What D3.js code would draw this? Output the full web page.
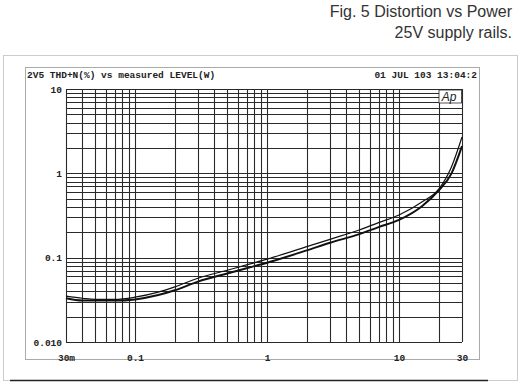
<!DOCTYPE html>
<html>
<head>
<meta charset="utf-8">
<script src="https://cdn.jsdelivr.net/npm/d3@7"></script>
<style>
  body { margin: 0; background: #fff; }
  svg { display: block; }
</style>
</head>
<body>
<div id="chart"></div>
<script>
// measured level (W) and THD+N (%) for the two channels
const levels    = [0.03, 0.04, 0.05, 0.07, 0.1, 0.15, 0.2, 0.3, 0.5, 0.7, 1, 2, 3, 5, 7, 10, 15, 20, 25, 30];
const thdChanA  = [0.035, 0.033, 0.032, 0.032, 0.034, 0.039, 0.045, 0.057, 0.071, 0.082, 0.096, 0.135, 0.165, 0.213, 0.26, 0.32, 0.46, 0.65, 1.2, 2.7];
const thdChanB  = [0.033, 0.031, 0.031, 0.031, 0.032, 0.036, 0.041, 0.052, 0.065, 0.075, 0.087, 0.122, 0.15, 0.19, 0.23, 0.28, 0.41, 0.63, 1.0, 2.1];

const xTickValues = [0.03, 0.1, 1, 10, 30];
const xTickLabels = ["30m", "0.1", "1", "10", "30"];
const yTickValues = [0.01, 0.1, 1, 10];
const yTickLabels = ["0.010", "0.1", "1", "10"];

const titleLines = ["Fig. 5 Distortion vs Power", "25V supply rails."];
const headerLeft = "2V5 THD+N(%) vs measured LEVEL(W)";
const headerRight = "01 JUL 103 13:04:2";

function drawChart() {
    const width = 520, height = 387;
    const plot = { left: 66, right: 462, top: 89, bottom: 342 };

    const svg = d3.select("#chart").append("svg")
        .attr("width", width)
        .attr("height", height);

    // title
    svg.append("g")
        .selectAll("text")
        .data(titleLines)
        .join("text")
        .attr("x", 512)
        .attr("y", (d, i) => 17 + i * 21)
        .attr("text-anchor", "end")
        .attr("font-family", "Liberation Sans, Arial, sans-serif")
        .attr("font-size", 16)
        .attr("fill", "#333")
        .text(d => d);

    // outer frame
    svg.append("rect")
        .attr("x", 3.5).attr("y", 55.5)
        .attr("width", 514).attr("height", 325)
        .attr("fill", "none")
        .attr("stroke", "#ccc");
    svg.append("line")
        .attr("x1", 10).attr("x2", 488)
        .attr("y1", 380.5).attr("y2", 380.5)
        .attr("stroke", "#222")
        .attr("stroke-width", 1.5);

    // dotted inner box of the analyser plot
    svg.append("rect")
        .attr("x", 25.5).attr("y", 67.5)
        .attr("width", 454).attr("height", 292)
        .attr("fill", "none")
        .attr("stroke", "#555")
        .attr("stroke-dasharray", "1,1");

    const mono = "Liberation Mono, DejaVu Sans Mono, monospace";

    svg.append("text")
        .attr("x", 27).attr("y", 78)
        .attr("font-family", mono).attr("font-weight", "bold")
        .attr("font-size", 9.5).attr("fill", "#222")
        .text(headerLeft);
    svg.append("text")
        .attr("x", 477).attr("y", 78)
        .attr("text-anchor", "end")
        .attr("font-family", mono).attr("font-weight", "bold")
        .attr("font-size", 9.5).attr("fill", "#222")
        .text(headerRight);

    const x = d3.scaleLog().domain([0.03, 30]).range([plot.left, plot.right]);
    const y = d3.scaleLog().domain([0.01, 10]).range([plot.bottom, plot.top]);

    // grid
    const grid = svg.append("g").attr("stroke", "#2a2a2a").attr("stroke-width", 1.1);
    grid.selectAll("line.v")
        .data(x.ticks())
        .join("line")
        .attr("class", "v")
        .attr("x1", d => Math.round(x(d)) + 0.5)
        .attr("x2", d => Math.round(x(d)) + 0.5)
        .attr("y1", plot.top)
        .attr("y2", plot.bottom);
    grid.selectAll("line.h")
        .data(y.ticks())
        .join("line")
        .attr("class", "h")
        .attr("x1", plot.left)
        .attr("x2", plot.right)
        .attr("y1", d => Math.round(y(d)) + 0.5)
        .attr("y2", d => Math.round(y(d)) + 0.5);

    // Ap logo
    svg.append("rect")
        .attr("x", 439).attr("y", 90)
        .attr("width", 22.5).attr("height", 13)
        .attr("fill", "#fff")
        .attr("stroke", "#2a2a2a")
        .attr("stroke-width", 0.8);
    svg.append("text")
        .attr("x", 449).attr("y", 101)
        .attr("text-anchor", "middle")
        .attr("font-family", "Liberation Sans, Arial, sans-serif")
        .attr("font-style", "italic")
        .attr("font-size", 12)
        .attr("fill", "#222")
        .text("Ap");

    // axes labels
    const xAxis = svg.append("g")
        .attr("transform", `translate(0,${plot.bottom + 12})`)
        .call(d3.axisBottom(x).tickValues(xTickValues)
            .tickFormat((d, i) => xTickLabels[i]).tickSize(0).tickPadding(0));
    const yAxis = svg.append("g")
        .attr("transform", `translate(${plot.left - 4},0)`)
        .call(d3.axisLeft(y).tickValues(yTickValues)
            .tickFormat((d, i) => yTickLabels[i]).tickSize(0).tickPadding(0));
    [xAxis, yAxis].forEach(a => {
        a.select(".domain").remove();
        a.selectAll("text")
            .attr("font-family", mono)
            .attr("font-weight", "bold")
            .attr("font-size", 9.5)
            .attr("fill", "#222");
    });

    // curves
    const line = d3.line()
        .x(d => x(d[0]))
        .y(d => y(d[1]))
        .curve(d3.curveMonotoneX);

    svg.append("path")
        .attr("d", line(d3.zip(levels, thdChanA)))
        .attr("fill", "none")
        .attr("stroke", "#111")
        .attr("stroke-width", 1.2);
    svg.append("path")
        .attr("d", line(d3.zip(levels, thdChanB)))
        .attr("fill", "none")
        .attr("stroke", "#111")
        .attr("stroke-width", 2);
}

document.addEventListener("DOMContentLoaded", drawChart);
</script>
</body>
</html>
